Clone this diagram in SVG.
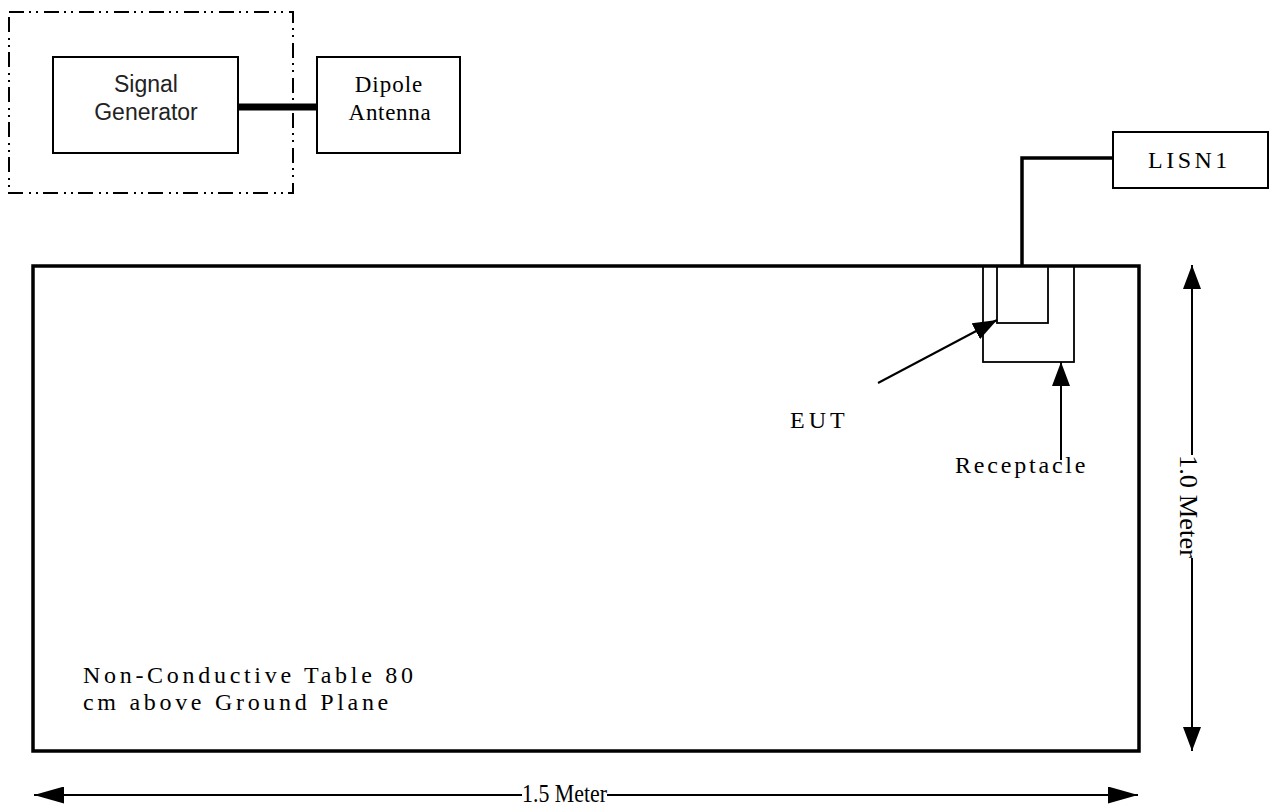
<svg xmlns="http://www.w3.org/2000/svg" width="1270" height="805" viewBox="0 0 1270 805">
<style>
.box{fill:#fff;stroke:#000;stroke-width:2}
.thin{fill:none;stroke:#000;stroke-width:1.8}
.serif{font-family:"Liberation Serif",serif;fill:#000}
.sans{font-family:"Liberation Sans",Arial,sans-serif;fill:#222}
.ln{stroke:#000;stroke-width:2;fill:none}
</style>
<defs>
<marker id="ah" viewBox="0 0 24 18" refX="24" refY="9" markerWidth="24" markerHeight="18" markerUnits="userSpaceOnUse" orient="auto"><path d="M0,0 L24,9 L0,18 Z" fill="#000"/></marker>
<marker id="ahw" viewBox="0 0 30 17" refX="30" refY="8.5" markerWidth="30" markerHeight="17" markerUnits="userSpaceOnUse" orient="auto"><path d="M0,0 L30,8.5 L0,17 Z" fill="#000"/></marker>
</defs>

<g id="enclosure">
<rect x="9" y="12" width="284" height="181" fill="none" stroke="#000" stroke-width="2" stroke-dasharray="15 5 2 5 2 6"/>
</g>

<g id="table">
<rect x="33" y="266" width="1106" height="485" fill="none" stroke="#000" stroke-width="3.5"/>
<text class="serif" font-size="24" letter-spacing="3.7" x="83" y="683">Non-Conductive Table 80</text>
<text class="serif" font-size="24" letter-spacing="3.7" x="83" y="710">cm above Ground Plane</text>
</g>

<g id="connectors">
<line x1="238" y1="107" x2="317" y2="107" stroke="#000" stroke-width="7"/>
<polyline points="1113,158 1022,158 1022,266" fill="none" stroke="#000" stroke-width="3.5"/>
<line class="ln" x1="878" y1="383" x2="997" y2="320" marker-end="url(#ah)"/>
<line class="ln" x1="1061" y1="460" x2="1061" y2="362" marker-end="url(#ah)"/>
<line class="ln" x1="1192" y1="455" x2="1192" y2="265" marker-end="url(#ah)"/>
<line class="ln" x1="1192" y1="558" x2="1192" y2="751" marker-end="url(#ah)"/>
<line class="ln" x1="522" y1="795" x2="34" y2="795" marker-end="url(#ahw)"/>
<line class="ln" x1="607" y1="795" x2="1138" y2="795" marker-end="url(#ahw)"/>
</g>

<g id="signal-generator">
<rect class="box" x="53" y="57" width="185" height="96"/>
<text class="sans" font-size="23" text-anchor="middle" x="146" y="92">Signal</text>
<text class="sans" font-size="23" text-anchor="middle" x="146" y="120">Generator</text>
</g>

<g id="dipole-antenna">
<rect class="box" x="317" y="57" width="143" height="96"/>
<text class="serif" font-size="23" letter-spacing="1" text-anchor="middle" x="389" y="92">Dipole</text>
<text class="serif" font-size="23" letter-spacing="0.7" text-anchor="middle" x="390" y="120">Antenna</text>
</g>

<g id="lisn1">
<rect class="box" x="1113" y="132" width="155" height="56"/>
<text class="serif" font-size="24" letter-spacing="3.5" x="1148" y="168">LISN1</text>
</g>

<g id="receptacle">
<rect class="thin" x="983" y="266" width="91" height="96"/>
</g>
<g id="eut">
<rect class="thin" x="997" y="266" width="51" height="57"/>
</g>

<g id="labels">
<text class="serif" font-size="24" letter-spacing="4" x="790" y="428">EUT</text>
<text class="serif" font-size="24" letter-spacing="2.8" x="955" y="473">Receptacle</text>
<text class="serif" font-size="25" x="522" y="802" textLength="85" lengthAdjust="spacingAndGlyphs">1.5 Meter</text>
<text class="serif" font-size="26" transform="translate(1180,455) rotate(90)" x="0" y="0" textLength="103" lengthAdjust="spacingAndGlyphs">1.0 Meter</text>
</g>
</svg>
